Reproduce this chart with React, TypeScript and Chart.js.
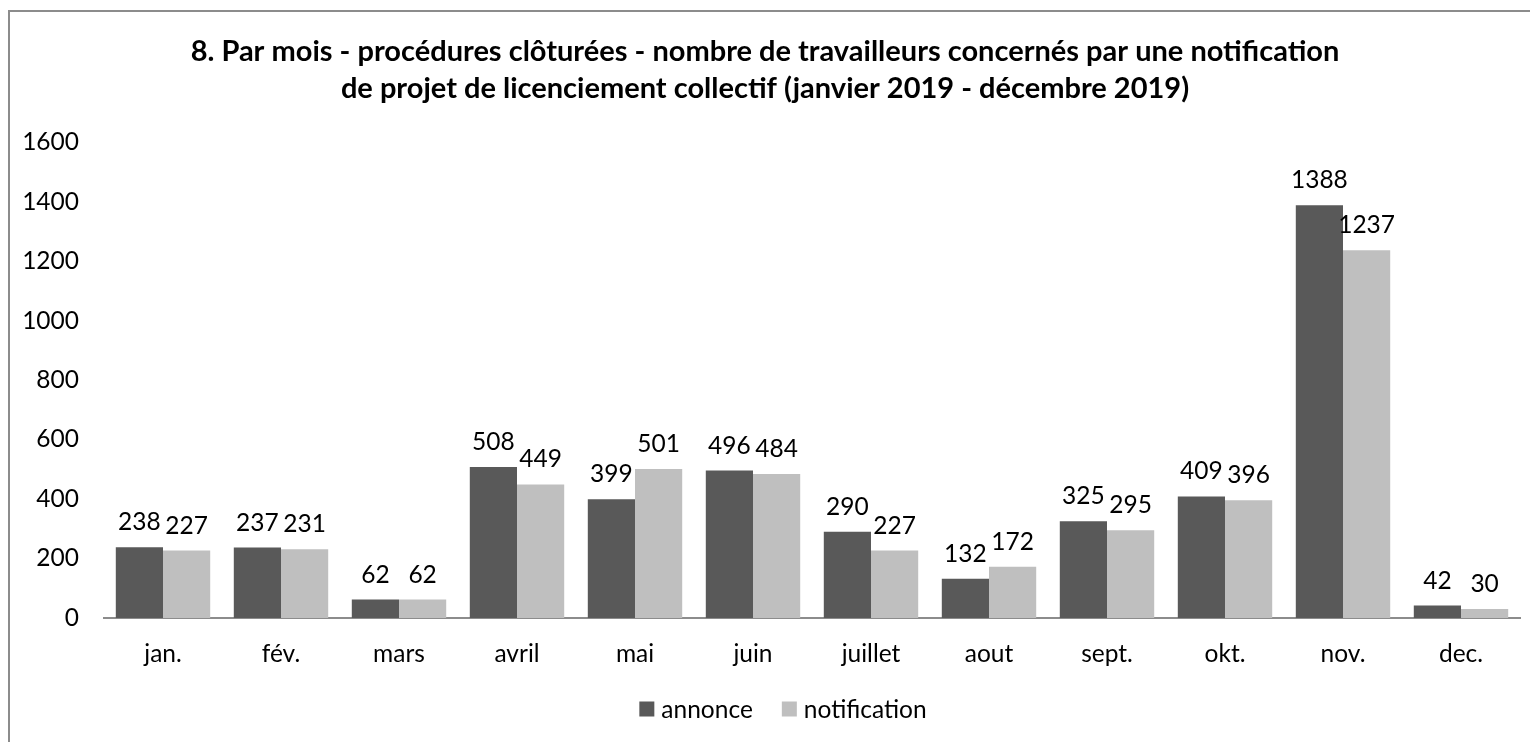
import React, { useEffect, useRef } from "react";
import { Chart, registerables } from "chart.js";

Chart.register(...registerables);

const months = ["jan.", "fév.", "mars", "avril", "mai", "juin", "juillet", "aout", "sept.", "okt.", "nov.", "dec."];
const annonce = [238, 237, 62, 508, 399, 496, 290, 132, 325, 409, 1388, 42];
const notification = [227, 231, 62, 449, 501, 484, 227, 172, 295, 396, 1237, 30];
const yTicks = [0, 200, 400, 600, 800, 1000, 1200, 1400, 1600];
const titleLines = [
  "8. Par mois - procédures clôturées - nombre de travailleurs concernés par une notification",
  "de projet de licenciement collectif (janvier 2019 - décembre 2019)",
];

const FONT = "Lato";
const FS = 24.5;

const valueLabels = {
  id: "valueLabels",
  afterDatasetsDraw(chart: any) {
    const ctx = chart.ctx;
    ctx.save();
    ctx.font = `${FS}px ${FONT}`;
    ctx.fillStyle = "#000";
    ctx.textAlign = "center";
    ctx.textBaseline = "alphabetic";
    chart.data.datasets.forEach((ds: any, di: number) => {
      const meta = chart.getDatasetMeta(di);
      meta.data.forEach((bar: any, i: number) => {
        ctx.fillText(String(ds.data[i]), bar.x, bar.y - 17);
      });
    });
    ctx.restore();
  },
};

const customLegend = {
  id: "customLegend",
  afterDraw(chart: any) {
    const ctx = chart.ctx;
    ctx.save();
    ctx.font = `${FS}px ${FONT}`;
    (ctx as any).fontVariantLigatures = "none";
    ctx.textBaseline = "middle";
    ctx.textAlign = "left";
    const box = 15;
    const gapText = 7;
    const gapItem = 29;
    const items = chart.data.datasets.map((ds: any) => ({
      label: ds.label,
      color: ds.backgroundColor,
      w: box + gapText + ctx.measureText(ds.label).width,
    }));
    const total = items.reduce((a: number, it: any) => a + it.w, 0) + gapItem * (items.length - 1);
    let x = chart.width / 2 + 13 - total / 2;
    const cy = 697;
    items.forEach((it: any) => {
      ctx.fillStyle = it.color;
      ctx.fillRect(x, cy - box / 2, box, box);
      ctx.fillStyle = "#000";
      ctx.fillText(it.label, x + box + gapText, cy + 1);
      x += it.w + gapItem;
    });
    ctx.restore();
  },
};

export default function App() {
  const ref = useRef<HTMLCanvasElement>(null);
  useEffect(() => {
    if (!ref.current) return;
    const chart = new Chart(ref.current, {
      type: "bar",
      data: {
        labels: months,
        datasets: [
          { label: "annonce", data: annonce, backgroundColor: "#595959", categoryPercentage: 0.8, barPercentage: 1 },
          { label: "notification", data: notification, backgroundColor: "#BFBFBF", categoryPercentage: 0.8, barPercentage: 1 },
        ],
      },
      options: {
        responsive: false,
        animation: false,
        layout: { padding: { left: 0, right: 10, top: 0, bottom: 73 } },
        plugins: {
          tooltip: { enabled: false },
          title: {
            display: true,
            text: titleLines,
            color: "#000",
            font: { family: FONT, size: 29, weight: "bold", lineHeight: 1.28 },
            padding: { top: 21, bottom: 35 },
          },
          legend: { display: false },
        },
        scales: {
          x: {
            grid: { display: false, drawTicks: false },
            border: { display: true, color: "#8c8c8c", width: 2 },
            ticks: { color: "#000", font: { family: FONT, size: FS }, padding: 21, maxRotation: 0 },
            afterFit: (s: any) => { s.height = 51; },
          },
          y: {
            min: 0,
            max: 1600,
            afterBuildTicks: (s: any) => { s.ticks = yTicks.map((v) => ({ value: v })); },
            grid: { display: false, drawTicks: false },
            border: { display: false },
            ticks: {
              color: "#000",
              font: { family: FONT, size: FS },
              padding: 25,
              callback: (v: any) => String(v),
            },
            afterFit: (s: any) => { s.width = 94; },
          },
        },
      },
      plugins: [valueLabels, customLegend],
    });
    return () => chart.destroy();
  }, []);
  return (
    <div
      style={{
        position: "absolute",
        left: 8,
        top: 10,
        width: 1522,
        height: 732,
        borderLeft: "2px solid #8c8c8c",
        borderTop: "2px solid #8c8c8c",
        boxSizing: "border-box",
        background: "#fff",
        overflow: "hidden",
      }}
    >
      <canvas ref={ref} width={1520} height={730} style={{ display: "block" }} />
    </div>
  );
}
